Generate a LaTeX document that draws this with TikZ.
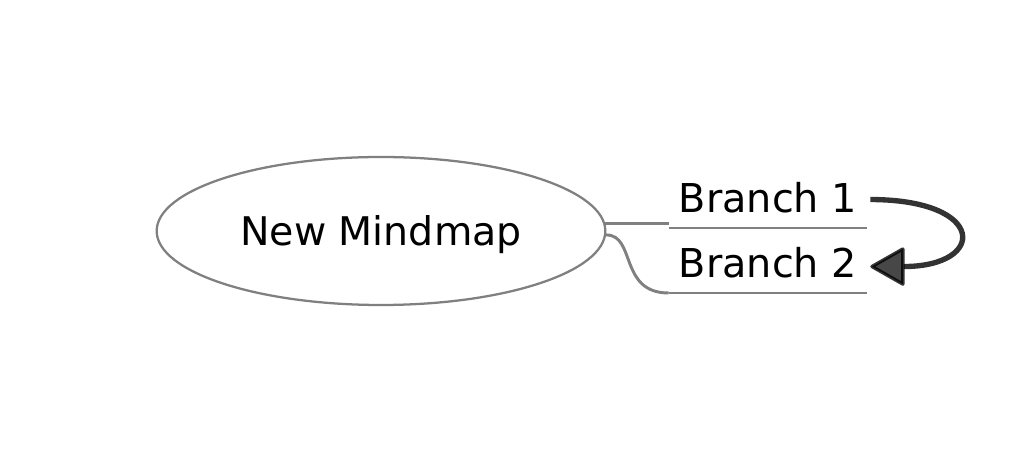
\documentclass[tikz,border=0pt]{standalone}
\usepackage{fontspec}
\setmainfont{DejaVu Sans}
\usetikzlibrary{shapes.geometric,arrows.meta}
\begin{document}
\begin{tikzpicture}[x=0.75pt,y=-0.75pt,
        rootnode/.style={ellipse, draw=black!50, line width=1.7pt, minimum width=336.5pt, minimum height=111pt, inner sep=0pt, text depth=0pt, font=\fontsize{29.6}{36}\selectfont},
        branchnode/.style={anchor=south, minimum width=148.5pt, inner xsep=0pt, inner ysep=11.25pt, text height=22.8pt, text depth=0pt, font=\fontsize{29.8}{36}\selectfont},
        branchline/.style={draw=black!50, line width=2.2pt},
        link/.style={draw=black, draw opacity=0.8, line width=4pt, -{Triangle[length=27pt,width=30pt,round,fill=black!72,line width=2.5pt]}}]
        \useasboundingbox (0,0) rectangle (1025,466);
        
        % Central topic
        \node[rootnode] (root) at (381,231) {New Mindmap};
        
        % Branches with underline
        \node[branchnode] (b1) at (768,228) {Branch 1};
        \node[branchnode] (b2) at (768,293) {Branch 2};
        \draw[branchline] (b1.south west) -- (b1.south east);
        \draw[branchline] (b2.south west) -- (b2.south east);
        
        % Connectors from root to branches
        \draw[branchline] (root.2.6) -- (root.2.6 -| b1.south west);
        \draw[branchline] (root.-1.2) .. controls +(30,0) and +(-50,0) .. (b2.south west);
        
        % Relation arrow
        \draw[link] ([shift={(3,2)}]b1.east) .. controls +(117,0) and +(117,0) .. ([shift={(3,4)}]b2.east);
    \end{tikzpicture}
\end{document}
